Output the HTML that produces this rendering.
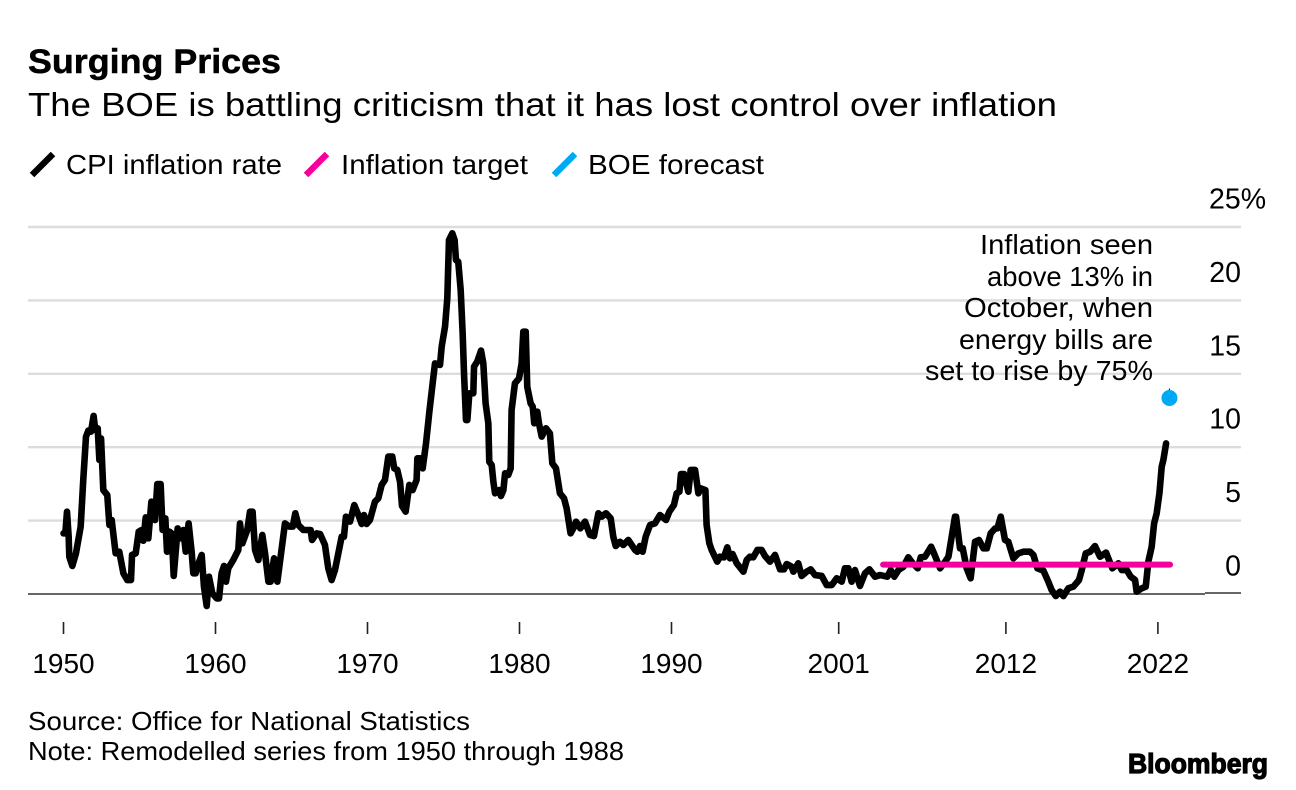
<!DOCTYPE html>
<html lang="en">
<head>
<meta charset="utf-8">
<title>Surging Prices</title>
<style>
html,body{margin:0;padding:0;background:#fff;}
svg{display:block;}
text{font-family:"Liberation Sans",sans-serif;fill:#000;}
</style>
</head>
<body>
<svg id="chart" xmlns="http://www.w3.org/2000/svg" width="1296" height="790" viewBox="0 0 1296 790">
  <rect x="0" y="0" width="1296" height="790" fill="#fff"/>
  <text x="28" y="73" font-size="34" font-weight="700" stroke="#000" stroke-width="0.5" textLength="253" lengthAdjust="spacingAndGlyphs">Surging Prices</text>
  <text x="28" y="116" font-size="33" textLength="1029" lengthAdjust="spacingAndGlyphs">The BOE is battling criticism that it has lost control over inflation</text>

  <g>
    <g>
      <line x1="32" y1="175" x2="53" y2="154" stroke="#000" stroke-width="6.4"/>
      <text x="66" y="174" font-size="28" textLength="216" lengthAdjust="spacingAndGlyphs">CPI inflation rate</text>
    </g>
    <g>
      <line x1="306" y1="175" x2="327" y2="154" stroke="#f5009b" stroke-width="6.4"/>
      <text x="341" y="174" font-size="28" textLength="187" lengthAdjust="spacingAndGlyphs">Inflation target</text>
    </g>
    <g>
      <line x1="554" y1="175" x2="575" y2="154" stroke="#00a9f4" stroke-width="6.4"/>
      <text x="588" y="174" font-size="28" textLength="176" lengthAdjust="spacingAndGlyphs">BOE forecast</text>
    </g>
  </g>

  <g id="grid"></g>
  <g id="yLabels"></g>
  <g id="xAxis"></g>
  <g id="marks"></g>

  <g font-size="28" text-anchor="end">
    <text x="1153" y="254" textLength="173" lengthAdjust="spacingAndGlyphs">Inflation seen</text>
    <text x="1153" y="286" textLength="166" lengthAdjust="spacingAndGlyphs">above 13% in</text>
    <text x="1153" y="317" textLength="189" lengthAdjust="spacingAndGlyphs">October, when</text>
    <text x="1153" y="349" textLength="194" lengthAdjust="spacingAndGlyphs">energy bills are</text>
    <text x="1153" y="380" textLength="228" lengthAdjust="spacingAndGlyphs">set to rise by 75%</text>
  </g>

  <text x="28" y="730" font-size="26" textLength="442" lengthAdjust="spacingAndGlyphs">Source: Office for National Statistics</text>
  <text x="28" y="760" font-size="26" textLength="596" lengthAdjust="spacingAndGlyphs">Note: Remodelled series from 1950 through 1988</text>
  <text x="1128" y="773" font-size="28" font-weight="700" stroke="#000" stroke-width="1.2" textLength="140" lengthAdjust="spacingAndGlyphs">Bloomberg</text>
</svg>
<script>
// ---- chart data ----
const cpiYears = [
1950.0,1950.12,1950.23,1950.34,1950.38,1950.58,1950.82,1951.13,1951.3,1951.48,1951.63,1951.81,1951.98,1952.09,1952.25,1952.36,1952.47,1952.62,1952.88,1953.02,1953.17,1953.43,1953.67,1953.94,1954.2,1954.44,1954.51,1954.75,1954.95,1955.14,1955.25,1955.41,1955.58,1955.78,1956.02,1956.17,1956.39,1956.52,1956.7,1956.81,1956.96,1957.12,1957.25,1957.51,1957.66,1957.88,1958.04,1958.23,1958.43,1958.54,1958.69,1958.85,1959.09,1959.24,1959.42,1959.57,1959.79,1960.08,1960.23,1960.4,1960.56,1960.69,1960.84,1961.17,1961.5,1961.61,1961.77,1962.09,1962.27,1962.44,1962.6,1962.82,1963.08,1963.26,1963.48,1963.63,1963.85,1964.07,1964.2,1964.57,1964.86,1965.08,1965.25,1965.45,1965.78,1966.26,1966.35,1966.65,1966.88,1967.2,1967.42,1967.64,1967.86,1968.3,
1968.45,1968.58,1968.85,1969.13,1969.4,1969.62,1969.77,1969.94,1970.16,1970.49,1970.71,1970.93,1971.15,1971.37,1971.63,1971.76,1971.96,1972.14,1972.27,1972.51,1972.75,1972.97,1973.23,1973.28,1973.5,1973.63,1973.85,1974.07,1974.26,1974.44,1974.77,1974.88,1975.1,1975.25,1975.36,1975.58,1975.73,1975.82,1975.97,1976.13,1976.26,1976.35,1976.48,1976.57,1976.7,1976.96,1977.01,1977.22,1977.47,1977.62,1977.77,1977.95,1978.01,1978.17,1978.28,1978.39,1978.67,1978.78,1978.94,1979.05,1979.26,1979.42,1979.48,1979.7,1979.97,1980.14,1980.25,1980.41,1980.51,1980.73,1980.87,1980.97,1981.17,1981.28,1981.46,1981.74,1982.0,1982.16,1982.4,1982.66,1982.93,1983.1,1983.36,1983.54,1983.72,
1984.0,1984.31,1984.64,1984.9,1985.19,1985.41,1985.69,1986.0,1986.17,1986.33,1986.61,1986.83,1987.16,1987.6,1987.75,1987.93,1988.1,1988.3,1988.59,1988.91,1989.24,1989.64,1989.86,1990.16,1990.34,1990.52,1990.62,1990.82,1991.11,1991.26,1991.55,1991.77,1991.92,1992.23,1992.31,1992.49,1992.64,1993.01,1993.19,1993.45,1993.67,1993.85,1994.02,1994.29,1994.73,1994.95,1995.16,1995.38,1995.65,1995.93,1996.15,1996.48,1996.81,1997.14,1997.4,1997.58,1997.9,1998.02,1998.34,1998.56,1998.89,1999.16,1999.44,1999.88,2000.21,2000.54,2000.87,2001.2,2001.41,2001.63,2001.85,2002.07,2002.4,2002.73,2003.02,2003.39,
2003.72,2004.2,2004.42,2004.66,2004.93,2005.26,2005.58,2005.87,2006.2,2006.4,2006.68,2007.08,2007.27,2007.67,2008.0,2008.22,2008.65,2008.72,2008.98,2009.16,2009.42,2009.68,2009.97,2010.23,2010.52,2010.74,2011.0,2011.29,2011.44,2011.66,2011.94,2012.16,2012.49,2012.82,2013.15,2013.59,2013.81,2014.07,2014.47,2014.79,2015.01,2015.28,2015.56,2015.78,2016.11,2016.44,2016.81,2016.99,2017.25,2017.54,2017.86,2018.19,2018.59,2019.0,2019.4,2019.62,2019.95,2020.21,2020.5,2020.6,2020.94,2021.2,2021.37,2021.59,2021.75,2021.92,2022.1,2022.25,2022.36,2022.54
];
const cpiValues = [
4.13,4.13,5.61,3.9,2.54,1.91,2.77,4.59,7.77,10.72,11.13,11.06,12.13,11.17,11.29,9.13,10.6,7.08,6.74,4.7,5.04,2.77,2.88,1.41,0.95,0.95,2.66,2.77,4.25,4.36,3.63,5.22,3.79,6.29,5.04,7.49,7.49,4.36,5.15,2.88,4.25,4.13,1.23,4.47,3.79,4.36,2.88,4.81,2.88,1.41,1.41,1.98,2.66,0.5,-0.82,1.18,0.05,-0.3,-0.3,1.41,1.91,0.84,1.75,2.32,3.0,4.81,3.45,4.36,5.61,5.61,3.0,2.32,4.02,2.77,0.84,0.84,2.43,0.84,1.86,4.81,4.59,4.59,5.5,4.7,4.36,4.36,3.68,4.13,4.09,3.34,1.75,0.95,1.63,3.9,
3.9,5.27,4.93,6.06,5.38,4.77,5.38,4.77,5.04,6.29,6.52,7.43,7.77,9.36,9.36,8.56,8.45,7.65,6.0,5.61,7.43,7.08,7.77,9.24,9.24,8.56,10.26,12.42,14.12,15.71,15.6,16.85,18.21,20.14,24.11,24.57,24.11,22.75,22.64,20.71,17.76,15.03,11.85,11.85,13.67,13.67,15.49,15.83,16.58,15.71,12.99,11.63,9.01,8.79,7.65,6.86,7.08,6.68,7.08,8.22,8.11,8.56,12.53,14.35,14.69,15.71,17.87,17.87,14.12,12.99,12.76,11.63,12.42,11.63,10.72,11.29,10.94,8.9,8.56,6.86,6.52,5.84,4.13,4.47,4.93,
4.47,4.93,4.02,3.95,5.5,5.27,5.5,5.15,3.9,3.27,3.56,3.34,3.68,3.0,2.88,3.27,2.88,3.9,4.7,4.81,5.38,5.04,5.61,6.06,6.86,6.97,8.17,8.17,6.97,8.45,8.45,6.86,7.2,7.08,4.7,3.45,3.0,2.2,2.54,2.5,3.18,2.43,2.72,2.09,1.52,2.32,2.54,2.5,3.0,3.0,2.59,2.2,2.66,1.68,1.68,2.04,1.86,1.52,2.09,1.23,1.52,1.68,1.29,1.23,0.61,0.61,1.07,0.84,1.75,1.75,0.84,1.63,0.55,1.41,1.68,1.18,
1.29,1.18,1.63,1.18,1.63,1.86,2.5,2.09,1.75,2.5,2.54,3.22,2.77,1.75,2.2,2.54,5.27,5.27,3.11,3.11,1.75,1.07,3.56,3.68,3.11,3.11,4.13,4.47,4.47,5.27,3.68,3.56,2.43,2.77,2.88,2.88,2.66,1.75,1.59,0.84,0.27,-0.14,0.16,-0.14,0.39,0.5,0.95,1.63,2.77,2.88,3.27,2.54,2.82,1.75,2.09,1.63,1.63,1.18,0.95,0.16,0.39,0.5,2.2,3.22,4.81,5.5,6.86,8.67,9.13,10.26
];
const targetYears = [2003.92, 2022.8];
const targetValues = [2, 2];
const forecastYears = [2022.76];
const forecastValues = [13.35];
const yTickValues = [0, 5, 10, 15, 20, 25];
const yTickLabels = ["0", "5", "10", "15", "20", "25%"];
const xTickYears = [1950, 1960, 1970, 1980, 1990, 2001, 2012, 2022];
const xTickLabels = ["1950", "1960", "1970", "1980", "1990", "2001", "2012", "2022"];

// ---- axis functions ----
const NS = 'http://www.w3.org/2000/svg';
function xScale(year) { return 63.5 + (year - 1950) * 15.2; }
function yScale(value) { return 594 - value * 14.68; }
function make(tag, attrs, parent) {
  const el = document.createElementNS(NS, tag);
  for (const k in attrs) el.setAttribute(k, attrs[k]);
  parent.appendChild(el);
  return el;
}
function linePath(xs, ys) {
  return xs.map((x, i) => (i ? 'L' : 'M') + xScale(x).toFixed(2) + ' ' + yScale(ys[i]).toFixed(2)).join(' ');
}

// gridlines and y labels
const gridGroup = document.getElementById('grid');
const yLabelGroup = document.getElementById('yLabels');
yTickValues.forEach((v, i) => {
  if (v === 0) {
    const base = make('line', {x1: 28, x2: 1205, y1: yScale(v), y2: yScale(v), stroke: '#333', 'stroke-width': 1.6}, gridGroup);
    
    
    const stub = make('line', {x1: 1205, x2: 1241, y1: yScale(v) - 1, y2: yScale(v) - 1, stroke: '#333', 'stroke-width': 1.6}, gridGroup);
    
    
  } else {
    const g = make('line', {x1: 28, x2: 1241, y1: yScale(v), y2: yScale(v), stroke: '#dcdcdc', 'stroke-width': 2.4}, gridGroup);
    
    
  }
  const isTop = yTickLabels[i].indexOf('%') >= 0;
  const t = make('text', {x: isTop ? 1209 : 1241, y: yScale(v) - 18.5, 'font-size': 28.5, 'text-anchor': isTop ? 'start' : 'end'}, yLabelGroup);
  t.textContent = yTickLabels[i];
  
  
});

// x ticks and labels
const xGroup = document.getElementById('xAxis');
xTickYears.forEach((yr, i) => {
  const tick = make('line', {x1: xScale(yr), x2: xScale(yr), y1: 622, y2: 634, stroke: '#222', 'stroke-width': 1.6}, xGroup);
  
  
  const label = make('text', {x: xScale(yr), y: 673, 'font-size': 28, 'text-anchor': 'middle'}, xGroup);
  label.textContent = xTickLabels[i];
  
  
});

// series
const markGroup = document.getElementById('marks');
const cpiLine = make('path', {d: linePath(cpiYears, cpiValues), fill: 'none', stroke: '#000', 'stroke-width': 6.6, 'stroke-linejoin': 'round', 'stroke-linecap': 'round'}, markGroup);


const targetLine = make('path', {d: linePath(targetYears, targetValues), fill: 'none', stroke: '#f5009b', 'stroke-width': 6, 'stroke-linecap': 'round'}, markGroup);


forecastYears.forEach((yr, i) => {
  const leader = make('line', {x1: xScale(yr), x2: xScale(yr), y1: yScale(forecastValues[i]) - 9.5, y2: yScale(forecastValues[i]), stroke: '#222', 'stroke-width': 1.2}, markGroup);
  
  
  const dot = make('circle', {cx: xScale(yr), cy: yScale(forecastValues[i]), r: 8, fill: '#00a9f4'}, markGroup);
  
  
});
</script>
</body>
</html>
